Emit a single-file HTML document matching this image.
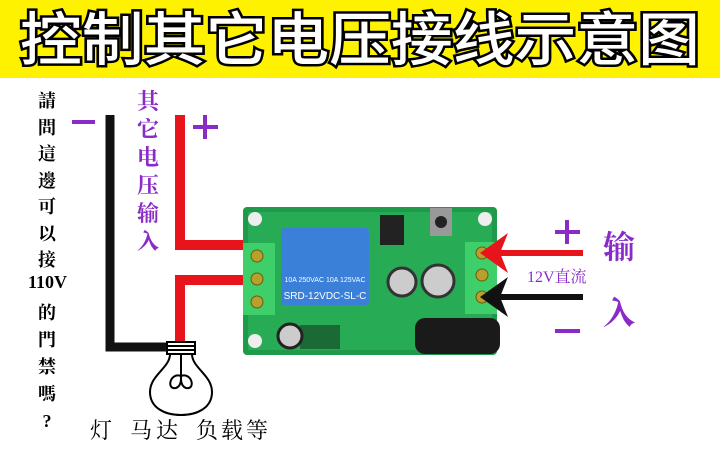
<!DOCTYPE html>
<html><head><meta charset="utf-8"><style>
html,body{margin:0;padding:0;background:#fff;width:720px;height:469px;overflow:hidden}
.t{position:absolute;font-family:"Liberation Serif","Noto Serif CJK SC",serif}
</style></head><body>
<div style="position:absolute;left:0;top:0;width:720px;height:469px">
<div style="position:absolute;left:0;top:0;width:720px;height:78px;background:#fff200"></div>
<svg width="720" height="469" style="position:absolute;left:0;top:0">
<text x="360" y="60" text-anchor="middle" font-family="Noto Sans CJK SC,sans-serif" font-size="58" font-weight="500" fill="#fff" stroke="#000" stroke-width="5" paint-order="stroke" textLength="680" lengthAdjust="spacingAndGlyphs">控制其它电压接线示意图</text>
<!-- wires -->
<path d="M110 115 V347 H172" stroke="#111" stroke-width="9" fill="none"/>
<path d="M180 115 V245 H245" stroke="#e8141c" stroke-width="10" fill="none"/>
<path d="M245 280 H180 V345" stroke="#e8141c" stroke-width="10" fill="none"/>
<!-- bulb -->
<g stroke="#000" stroke-width="2" fill="none">
<rect x="167" y="342" width="28" height="12" fill="#fff"/>
<line x1="167" y1="346" x2="195" y2="346"/><line x1="167" y1="350" x2="195" y2="350"/>
<path d="M170 354 C170 368 150 375 150 392 C150 408 165 415 181 415 C197 415 212 408 212 392 C212 375 192 368 192 354"/>
<path d="M181 355 V376 M181 376 C170 372 166 390 176 388 C182 386 181 378 181 376 C181 378 180 386 186 388 C196 390 192 372 181 376"/>
</g>
<!-- board -->
<rect x="243" y="207" width="254" height="148" rx="4" fill="#1f9a4a"/>
<rect x="248" y="212" width="244" height="138" fill="#27ac55"/>
<circle cx="255" cy="219" r="7" fill="#eee"/><circle cx="255" cy="341" r="7" fill="#eee"/>
<circle cx="485" cy="219" r="7" fill="#eee"/><circle cx="485" cy="341" r="7" fill="#eee"/>
<rect x="243" y="243" width="32" height="72" fill="#3fcf6a"/>
<rect x="465" y="242" width="32" height="72" fill="#3fcf6a"/>
<g fill="#b9a02c" stroke="#6b5a10"><circle cx="257" cy="256" r="6"/><circle cx="257" cy="279" r="6"/><circle cx="257" cy="302" r="6"/>
<circle cx="482" cy="253" r="6"/><circle cx="482" cy="275" r="6"/><circle cx="482" cy="297" r="6"/></g>
<rect x="281" y="228" width="88" height="77" rx="3" fill="#3a7fd8"/>
<text x="325" y="282" font-family="Liberation Sans" font-size="7" fill="#fff" text-anchor="middle">10A 250VAC 10A 125VAC</text>
<text x="325" y="299" font-family="Liberation Sans" font-size="10" fill="#fff" text-anchor="middle">SRD-12VDC-SL-C</text>
<rect x="380" y="215" width="24" height="30" fill="#222"/><rect x="430" y="208" width="22" height="28" fill="#999"/>
<circle cx="441" cy="222" r="6" fill="#222"/>
<circle cx="402" cy="282" r="14" fill="#ccc" stroke="#333" stroke-width="3"/>
<circle cx="438" cy="281" r="16" fill="#ccc" stroke="#333" stroke-width="3"/>
<rect x="300" y="325" width="40" height="24" fill="#1b6a36"/>
<circle cx="290" cy="336" r="12" fill="#ccc" stroke="#222" stroke-width="3"/>
<rect x="415" y="318" width="85" height="36" rx="10" fill="#1a1a1a"/>
<!-- arrows -->
<line x1="583" y1="253" x2="495" y2="253" stroke="#e8141c" stroke-width="6"/>
<path d="M480 253 L508 233 L500 253 L508 273 Z" fill="#e8141c"/>
<line x1="583" y1="297" x2="495" y2="297" stroke="#111" stroke-width="6"/>
<path d="M480 297 L508 277 L500 297 L508 317 Z" fill="#111"/>
<!-- signs -->
<g stroke="#8a2bc8" stroke-width="4">
<line x1="72" y1="122" x2="95" y2="122"/>
<line x1="193" y1="127" x2="218" y2="127"/><line x1="205" y1="115" x2="205" y2="139"/>
<line x1="555" y1="232" x2="580" y2="232"/><line x1="567" y1="220" x2="567" y2="244"/>
<line x1="555" y1="331" x2="580" y2="331"/>
</g>
</svg>
<div class="t" style="left:34px;top:88px;width:26px;font-size:18px;font-weight:bold;line-height:26.5px;text-align:center">請<br>問<br>這<br>邊<br>可<br>以<br>接</div>
<div class="t" style="left:28px;top:272px;font-size:18px;font-weight:bold">110V</div>
<div class="t" style="left:34px;top:300px;width:26px;font-size:18px;font-weight:bold;line-height:27px;text-align:center">的<br>門<br>禁<br>嗎<br>?</div>
<div class="t" style="left:134px;top:88px;width:28px;font-size:22px;line-height:28px;color:#8a2bc8;text-align:center;font-weight:bold">其<br>它<br>电<br>压<br>输<br>入</div>
<div class="t" style="left:90px;top:414px;font-size:22px;white-space:pre;letter-spacing:3px">灯</div>
<div class="t" style="left:130px;top:414px;font-size:22px;white-space:pre;letter-spacing:4px">马达</div>
<div class="t" style="left:196px;top:414px;font-size:22px;white-space:pre;letter-spacing:3px">负载等</div>
<div class="t" style="left:527px;top:264px;font-size:16px;color:#8a2bc8">12V直流</div>
<div class="t" style="left:603px;top:222px;font-size:32px;color:#8a2bc8;font-weight:bold">输</div>
<div class="t" style="left:603px;top:288px;font-size:32px;color:#8a2bc8;font-weight:bold">入</div>
</div>
</body></html>
